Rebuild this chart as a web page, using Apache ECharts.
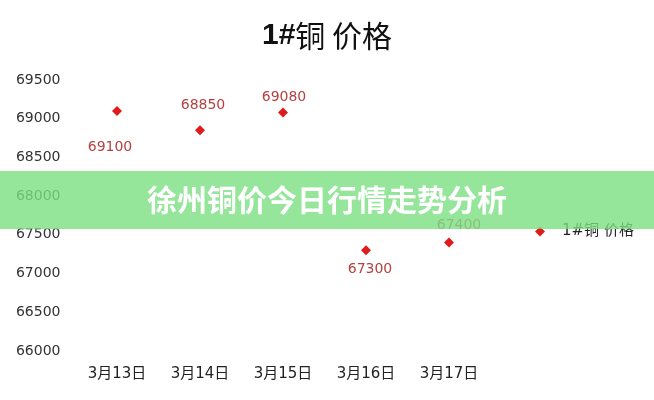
<!DOCTYPE html>
<html><head><meta charset="utf-8">
<script src="https://cdn.jsdelivr.net/npm/echarts@6/dist/echarts.min.js"></script>
<style>html,body{margin:0;padding:0;background:#fff}#c{width:654px;height:400px}</style>
</head><body><div id="c"></div>
<script>
var categories = ['3月13日','3月14日','3月15日','3月16日','3月17日'];
var prices = [69100, 68850, 69080, 67300, 67400];
var yTicks = [66000, 66500, 67000, 67500, 68000, 68500, 69000, 69500];
var seriesName = '1#铜 价格';
var bannerText = '徐州铜价今日行情走势分析';

var labelPlacement = [
  {position:'bottom', offset:[-7, 19]},
  {position:'top', offset:[3, -8]},
  {position:'top', offset:[1, 2]},
  {position:'bottom', offset:[4, 2]},
  {position:'top', offset:[10, 0]}
];
var dataItems = prices.map(function(v, i){
  return {value: v, label: labelPlacement[i]};
});

var chart = echarts.init(document.getElementById('c'));
chart.setOption({
  backgroundColor: '#fff',
  animation: false,
  title: {
    text: '{b|1#}{n|铜 价格}',
    left: 'center',
    top: 16,
    textStyle: {
      rich: {
        b: {fontSize: 30, fontWeight: 'bold', color: '#111', fontFamily: 'Liberation Sans, Arial'},
        n: {fontSize: 30, fontWeight: 'normal', color: '#111', fontFamily: 'Noto Sans CJK SC'}
      }
    }
  },
  legend: {
    data: [seriesName],
    left: 530,
    top: 219,
    icon: 'diamond',
    itemWidth: 10,
    itemHeight: 10,
    textStyle: {color: '#222', fontSize: 15, fontFamily: 'DejaVu Sans, Noto Sans CJK SC', padding: [0,0,0,12]}
  },
  grid: {left: 75.5, right: 163.5, top: 80, bottom: 49},
  xAxis: {
    type: 'category',
    data: categories,
    boundaryGap: true,
    axisLine: {show: false},
    axisTick: {show: false},
    splitLine: {show: false},
    axisLabel: {color: '#222', fontSize: 15, margin: 16, fontFamily: 'DejaVu Sans, Noto Sans CJK SC'}
  },
  yAxis: {
    type: 'value',
    min: yTicks[0],
    max: yTicks[yTicks.length - 1],
    interval: yTicks[1] - yTicks[0],
    axisLine: {show: false},
    axisTick: {show: false},
    splitLine: {show: false},
    axisLabel: {color: '#333', fontSize: 14, margin: 15, fontFamily: 'DejaVu Sans',
                formatter: function(v){ return String(v); }}
  },
  series: [{
    name: seriesName,
    type: 'scatter',
    symbol: 'diamond',
    symbolSize: 10,
    itemStyle: {color: '#e01b1b', opacity: 1},
    label: {show: true, color: '#b5403f', fontSize: 14, fontFamily: 'DejaVu Sans', formatter: '{c}'},
    data: dataItems
  }],
  graphic: [
    {type: 'rect', z: 100, shape: {x: 0, y: 171, width: 654, height: 58},
     style: {fill: 'rgba(122,224,130,0.8)'}},
    {type: 'text', z: 101, x: 327, y: 200,
     style: {text: bannerText, fill: '#fff', fontSize: 30, fontWeight: 'bold',
             fontFamily: 'Noto Sans CJK SC', align: 'center', verticalAlign: 'middle'}}
  ]
});
</script>
</body></html>
